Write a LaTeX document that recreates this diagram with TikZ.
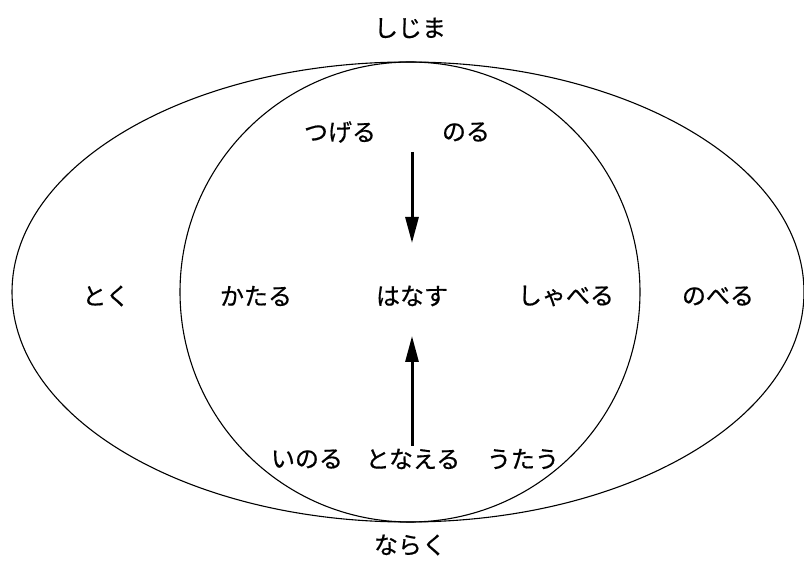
\documentclass[tikz,border=0pt]{standalone}
\usepackage{fontspec}
\setmainfont{Noto Sans CJK JP}[FakeBold=0.6]
\usetikzlibrary{arrows.meta}
\begin{document}
\begin{tikzpicture}[x=1pt,y=-1pt,
  word/.style={font=\fontsize{24}{28}\selectfont, inner sep=0pt},
  outline/.style={line width=1.1pt},
  flow/.style={line width=3pt, -{Triangle[length=26pt,width=13pt]}}]
  \useasboundingbox (0,0) rectangle (804,577);
  % outer ellipse and inner circle, touching at top and bottom
  \draw[outline] (408,292) ellipse [x radius=396, y radius=230];
  \draw[outline] (410,292) circle [radius=230];
  % labels
  \node[word] (top)   at (410,28)  {しじま};
  \node[word] (tsu)   at (340,132) {つげる};
  \node[word] (noru)  at (466,132) {のる};
  \node[word] (toku)  at (106,296) {とく};
  \node[word] (kata)  at (256,296) {かたる};
  \node[word] (hana)  at (412,296) {はなす};
  \node[word] (shab)  at (566,296) {しゃべる};
  \node[word] (nobe)  at (718,296) {のべる};
  \node[word] (ino)   at (307,459) {いのる};
  \node[word] (tona)  at (413,459) {となえる};
  \node[word] (uta)   at (523,459) {うたう};
  \node[word] (bot)   at (410,545) {ならく};
  % arrows pointing at the centre word
  \coordinate (dstart) at (412,152);
  \coordinate (dend)   at (412,243);
  \coordinate (ustart) at (412,446);
  \coordinate (uend)   at (412,336);
  \draw[flow] (dstart) -- (dend);
  \draw[flow] (ustart) -- (uend);
\end{tikzpicture}
\end{document}
